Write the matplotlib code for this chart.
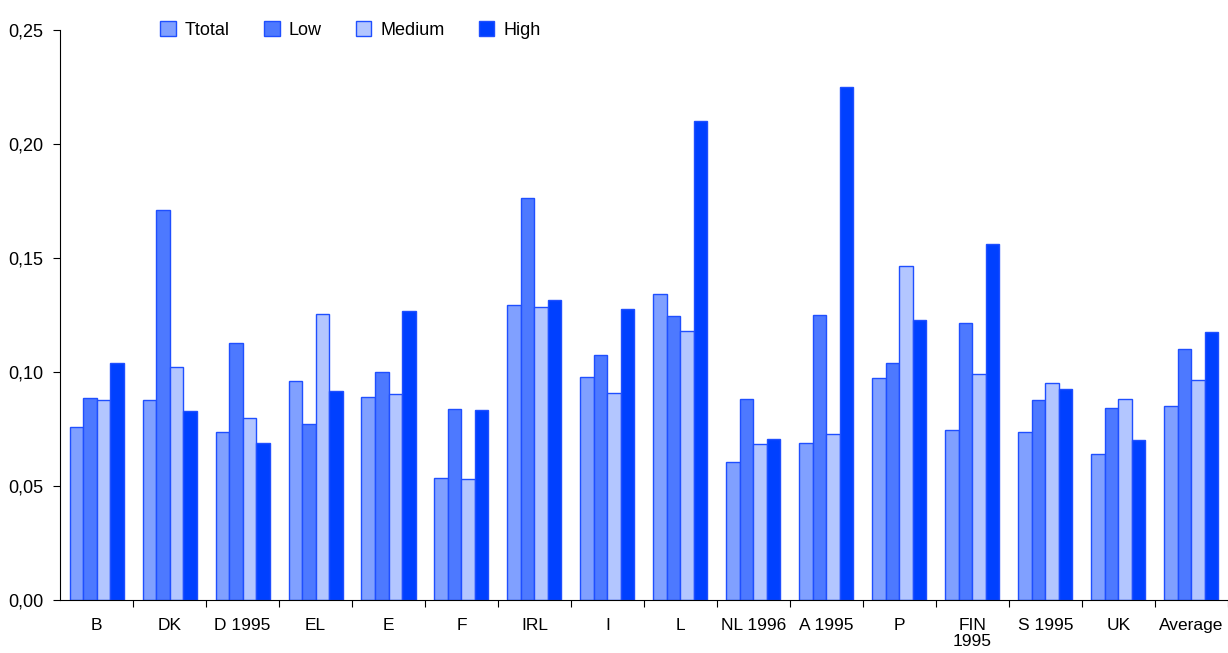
import numpy as np
import matplotlib.pyplot as plt

plt.rcParams['font.family'] = ['Liberation Sans', 'DejaVu Sans']

countries = ['B', 'DK', 'D 1995', 'EL', 'E', 'F', 'IRL', 'I', 'L', 'NL 1996',
             'A 1995', 'P', 'FIN\n1995', 'S 1995', 'UK', 'Average']
total = [0.076, 0.0877, 0.0737, 0.096, 0.089, 0.0535, 0.1294, 0.0978, 0.1342, 0.0605,
         0.0689, 0.0974, 0.0746, 0.0737, 0.064, 0.0851]
low = [0.0886, 0.171, 0.1127, 0.077, 0.100, 0.0838, 0.1763, 0.1075, 0.1246, 0.088,
       0.125, 0.104, 0.1215, 0.0877, 0.0842, 0.110]
medium = [0.0877, 0.102, 0.080, 0.1254, 0.0904, 0.053, 0.1285, 0.0908, 0.118, 0.0684,
          0.0728, 0.1465, 0.0991, 0.0952, 0.0882, 0.0965]
high = [0.104, 0.083, 0.069, 0.0917, 0.1268, 0.0833, 0.1316, 0.1276, 0.210, 0.0706,
        0.225, 0.1228, 0.156, 0.0925, 0.0702, 0.1175]

series = [('Ttotal', total, '#80a0ff'), ('Low', low, '#4d79ff'),
          ('Medium', medium, '#b3c6ff'), ('High', high, '#0040ff')]

fig = plt.figure(figsize=(12.28, 6.53), dpi=100)
ax = fig.add_axes([0.0489, 0.0812, 0.951, 0.8729])

x = np.arange(len(countries)) + 0.5
w = 0.185
for k, (name, vals, col) in enumerate(series):
    ax.bar(x + (k - 1.5) * w, vals, w, color=col, edgecolor='#1f4fff',
           linewidth=1, label=name)

ax.set_xlim(0, len(countries))
ax.set_ylim(0, 0.25)
ax.set_yticks(np.arange(0, 0.251, 0.05))
ax.set_yticklabels([f'{v:.2f}'.replace('.', ',') for v in np.arange(0, 0.251, 0.05)],
                   fontsize=13)
ax.set_xticks(np.arange(1, len(countries) + 1))
ax.set_xticklabels([])
ax.set_xticks(x, minor=True)
ax.set_xticklabels(countries, minor=True, fontsize=12.5, linespacing=1.1)
ax.tick_params(axis='x', which='minor', length=0, pad=13)
ax.tick_params(axis='x', which='major', length=5, direction='out')
ax.tick_params(axis='y', length=5, direction='out', pad=7)

for s in ['top', 'right']:
    ax.spines[s].set_visible(False)

ax.legend(loc='center left', bbox_to_anchor=(0.086, 1.0), ncol=4, frameon=False,
          fontsize=13, handlelength=0.85, handleheight=0.85, handletextpad=0.5,
          columnspacing=1.9, borderpad=0, borderaxespad=0)

fig.savefig('out.png', dpi=100)
